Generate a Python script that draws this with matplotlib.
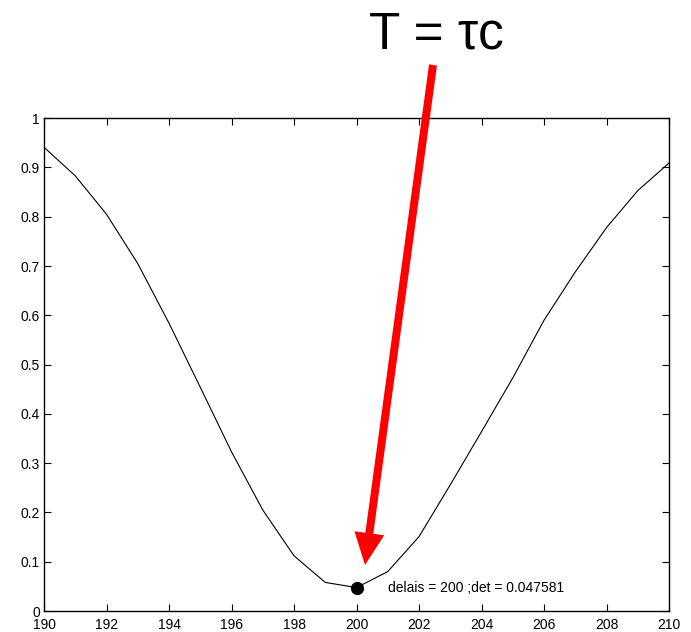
import numpy as np
import matplotlib.pyplot as plt
from matplotlib.patches import FancyArrow

plt.rcParams['font.family'] = ['Liberation Sans', 'DejaVu Sans']

# delay scan and detection criterion
delais = [190, 191, 192, 193, 194, 195, 196, 197, 198, 199, 200,
          201, 202, 203, 204, 205, 206, 207, 208, 209, 210]
det = [0.941, 0.883, 0.805, 0.705, 0.584, 0.454, 0.323, 0.205, 0.112, 0.058, 0.047581,
       0.080, 0.151, 0.256, 0.364, 0.473, 0.590, 0.688, 0.778, 0.853, 0.909]
best_delay = 200
best_det = 0.047581

fig = plt.figure(figsize=(6.91, 6.32), dpi=100)
ax = fig.add_axes([0.0637, 0.0332, 0.9045, 0.7798])

ax.plot(delais, det, color='black', lw=0.8)
ax.plot(best_delay, best_det, 'o', color='black', markersize=8.5)
ax.text(best_delay + 1, best_det, 'delais = %d ;det = %g' % (best_delay, best_det),
        fontsize=10, va='center', ha='left')

ax.set_xlim(190, 210)
ax.set_ylim(0, 1)
ax.set_xticks(np.arange(190, 211, 2))
ax.set_yticks(np.round(np.arange(0, 1.01, 0.1), 1))
ax.set_yticklabels(['0', '0.1', '0.2', '0.3', '0.4', '0.5', '0.6', '0.7', '0.8', '0.9', '1'])
ax.tick_params(direction='in', top=True, right=True, length=5, width=0.8,
               labelsize=10, pad=3)
ax.tick_params(axis='x', pad=5)
for s in ax.spines.values():
    s.set_linewidth(1.0)

# big label and arrow, placed in inches from the bottom-left corner
fig.text(4.36, 5.97, 'T = τc', fontsize=37, ha='center', va='center',
         transform=fig.dpi_scale_trans)
arrow = FancyArrow(4.33, 5.67, -0.68, -5.0, width=0.08, head_width=0.30,
                   head_length=0.32, length_includes_head=True,
                   color='red', lw=0, transform=fig.dpi_scale_trans)
fig.patches.append(arrow)

fig.savefig('out.png', dpi=100)
